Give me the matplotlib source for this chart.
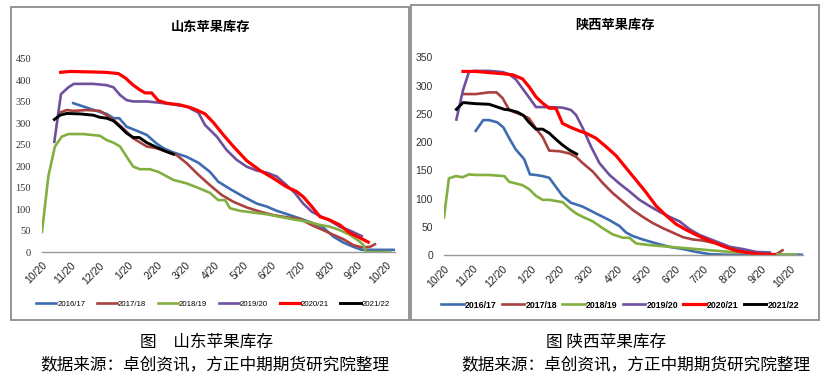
import matplotlib
matplotlib.use("Agg")
import matplotlib.pyplot as plt
from matplotlib.patches import Rectangle

# x = months since 10/20 (0 = Oct 20), y = stock (10k tons)
months = ["10/20", "11/20", "12/20", "1/20", "2/20", "3/20", "4/20",
          "5/20", "6/20", "7/20", "8/20", "9/20", "10/20"]
seasons = ["2016/17", "2017/18", "2018/19", "2019/20", "2020/21", "2021/22"]
colors = ["#3D6CB0", "#A9423F", "#83AE40", "#6F509C", "#FF0000", "#000000"]
widths = [1.9, 1.9, 1.9, 1.9, 2.3, 2.1]

# ---- Shandong ----
sd_x_1617 = [1.09, 1.9, 2.25, 2.49, 2.69, 2.95, 3.18, 3.65, 3.99, 4.23, 4.58, 5.04, 5.45, 5.85,
             6.14, 6.55, 7.02, 7.48, 7.83, 8.18, 8.64, 8.99, 9.45, 9.8, 10.15, 10.5, 10.85, 11.14, 12.3]
sd_y_1617 = [347, 329, 322, 312, 312, 292, 286, 273, 253, 242, 232, 222, 208, 187,
             164, 147, 129, 113, 106, 96, 86, 78, 67, 57, 36, 22, 12, 5, 5]
sd_x_1718 = [0.63, 0.86, 1.09, 1.56, 2.02, 2.25, 2.49, 2.83, 3.18, 3.65, 3.99, 4.34, 4.69, 5.04,
             5.45, 5.85, 6.26, 6.67, 7.13, 7.6, 8.06, 8.52, 8.99, 9.45, 9.8, 10.15, 10.5, 10.85,
             11.14, 11.43, 11.6]
sd_y_1718 = [325, 331, 329, 331, 329, 319, 308, 288, 265, 246, 242, 234, 226, 207,
             180, 156, 133, 117, 104, 94, 86, 81, 77, 61, 51, 40, 30, 16,
             11, 12, 18]
sd_x_1819 = [0, 0.22, 0.45, 0.69, 0.92, 1.44, 2.02, 2.25, 2.49, 2.72, 2.95, 3.18, 3.41, 3.76,
             4.05, 4.58, 5.04, 5.5, 5.85, 6.14, 6.38, 6.55, 6.9, 7.36, 7.83, 8.29, 8.76, 9.22,
             9.69, 10.03, 10.38, 10.73, 11.08, 11.2, 11.29, 12.13]
sd_y_1819 = [47, 176, 246, 269, 275, 275, 271, 261, 255, 246, 222, 199, 193, 193,
             187, 168, 160, 148, 138, 121, 121, 102, 96, 92, 88, 82, 76, 71,
             63, 59, 51, 40, 24, 16, 0, 0]
sd_x_1920 = [0.43, 0.66, 0.92, 1.11, 1.79, 2.25, 2.49, 2.72, 2.95, 3.18, 3.65, 4.11, 4.58, 5.04,
             5.45, 5.68, 6.09, 6.43, 6.78, 7.13, 7.48, 7.83, 8.18, 8.52, 8.82, 9.1, 9.4, 9.74,
             9.98, 10.38, 10.73, 11.14]
sd_y_1920 = [257, 368, 384, 392, 392, 389, 384, 366, 354, 351, 351, 348, 344, 339,
             325, 296, 269, 238, 215, 199, 190, 185, 176, 156, 137, 113, 94, 82,
             75, 59, 50, 37]
sd_x_2021 = [0.65, 1.0, 1.6, 2.2, 2.66, 2.9, 3.18, 3.41, 3.59, 3.82, 4.05, 4.34, 4.81, 5.16,
             5.39, 5.68, 5.97, 6.32, 6.67, 7.13, 7.6, 8.06, 8.52, 8.87, 9.1, 9.4, 9.69, 9.98,
             10.38, 10.73, 11.08, 11.37]
sd_y_2021 = [419, 421, 420, 419, 416, 406, 389, 378, 371, 371, 353, 347, 343, 337,
             331, 322, 302, 273, 246, 213, 190, 172, 152, 141, 129, 106, 82, 76,
             63, 44, 33, 23]
sd_x_2122 = [0.43, 0.63, 0.86, 1.32, 1.79, 2.02, 2.25, 2.49, 2.72, 2.95, 3.18, 3.39, 3.65, 3.99,
             4.34, 4.58]
sd_y_2122 = [309, 319, 323, 322, 319, 314, 312, 306, 292, 277, 267, 267, 255, 244,
             234, 228]

# ---- Shaanxi ----
sx_x_1617 = [1.1, 1.36, 1.56, 1.85, 2.06, 2.26, 2.49, 2.78, 2.98, 3.19, 3.42, 3.65, 3.88, 4.11,
             4.4, 4.81, 5.27, 5.74, 6.08, 6.32, 6.55, 6.89, 7.36, 7.82, 8.29, 8.75, 9.21, 9.79, 12.45]
sx_y_1617 = [220, 239, 239, 235, 226, 207, 187, 170, 143, 142, 140, 137, 121, 105,
             93, 86, 74, 62, 52, 40, 34, 28, 21, 15, 11, 6, 2, 1, 1]
sx_x_1718 = [0.67, 1.1, 1.56, 1.82, 2.03, 2.26, 2.49, 2.72, 2.95, 3.19, 3.42, 3.65, 4.0, 4.35,
             4.58, 4.81, 5.16, 5.5, 5.85, 6.2, 6.55, 6.89, 7.24, 7.59, 7.94, 8.29, 8.63, 8.98,
             9.44, 9.91, 10.37, 10.83, 11.3, 11.53, 11.74]
sx_y_1718 = [285, 285, 288, 288, 278, 257, 252, 248, 242, 224, 209, 185, 184, 180,
             174, 163, 148, 128, 110, 95, 80, 68, 57, 48, 40, 32, 28, 26,
             21, 14, 9, 5, 2, 2, 9]
sx_x_1819 = [0, 0.17, 0.41, 0.64, 0.87, 1.1, 1.56, 2.09, 2.26, 2.49, 2.72, 2.95, 3.19, 3.42,
             3.65, 3.88, 4.11, 4.35, 4.58, 4.81, 5.16, 5.5, 5.85, 6.2, 6.43, 6.66, 7.13, 7.82,
             8.52, 9.21, 9.91, 10.6, 11.3, 12.2]
sx_y_1819 = [67, 136, 140, 138, 143, 142, 142, 140, 130, 127, 124, 117, 105, 98,
             98, 96, 94, 83, 74, 68, 60, 48, 37, 31, 31, 21, 18, 15,
             12, 9, 6, 4, 2, 1]
sx_x_1920 = [0.43, 0.66, 0.87, 1.1, 1.56, 2.03, 2.26, 2.49, 2.72, 2.95, 3.19, 3.65, 4.11, 4.4,
             4.58, 4.81, 5.1, 5.39, 5.74, 6.08, 6.43, 6.78, 7.13, 7.47, 7.82, 8.17, 8.52, 8.86,
             9.21, 9.56, 9.91, 10.37, 10.83, 11.3]
sx_y_1920 = [240, 292, 325, 326, 326, 324, 320, 311, 295, 279, 262, 262, 261, 257,
             248, 225, 192, 163, 142, 127, 113, 98, 87, 77, 68, 60, 46, 36,
             29, 22, 15, 11, 6, 5]
sx_x_2021 = [0.66, 1.1, 1.56, 2.03, 2.38, 2.72, 2.95, 3.19, 3.42, 3.65, 3.88, 4.11, 4.4, 4.69,
             4.92, 5.27, 5.62, 5.97, 6.32, 6.66, 7.01, 7.36, 7.71, 8.05, 8.4, 8.75, 9.1, 9.44,
             9.79, 10.14, 10.49, 10.95, 11.47]
sx_y_2021 = [325, 325, 323, 321, 319, 312, 298, 280, 269, 260, 260, 233, 226, 220,
             216, 207, 192, 176, 154, 133, 111, 87, 70, 55, 45, 36, 28, 21,
             14, 8, 5, 2, 1]
sx_x_2122 = [0.43, 0.66, 1.1, 1.56, 1.8, 2.09, 2.26, 2.55, 2.76, 2.95, 3.19, 3.42, 3.65, 3.88,
             4.11, 4.35, 4.6]
sx_y_2122 = [258, 270, 268, 267, 263, 258, 257, 253, 247, 235, 223, 223, 216, 205,
             195, 186, 179]

sd_x = [sd_x_1617, sd_x_1718, sd_x_1819, sd_x_1920, sd_x_2021, sd_x_2122]
sd_y = [sd_y_1617, sd_y_1718, sd_y_1819, sd_y_1920, sd_y_2021, sd_y_2122]
sx_x = [sx_x_1617, sx_x_1718, sx_x_1819, sx_x_1920, sx_x_2021, sx_x_2122]
sx_y = [sx_y_1617, sx_y_1718, sx_y_1819, sx_y_1920, sx_y_2021, sx_y_2122]

W, H = 833, 390
fig = plt.figure(figsize=(W / 100, H / 100), dpi=100)
cjk = ["Noto Sans CJK SC", "DejaVu Sans"]


def px_box(x0, y0, x1, y1):
    # pixel box (top-left origin) -> figure fraction rect
    return [x0 / W, 1 - y1 / H, (x1 - x0) / W, (y1 - y0) / H]


# panel borders
for x0, y0, x1, y1 in [(11, 7, 409, 320), (411, 5, 819, 320)]:
    fig.patches.append(Rectangle((x0 / W, 1 - y1 / H), (x1 - x0) / W, (y1 - y0) / H,
                                 transform=fig.transFigure, fill=False,
                                 edgecolor="#8C8C8C", linewidth=1.3))


def draw(ax, xs, ys, ymax, ystep, xmax, tickfont, legfont, legweight, title, tx, ty, legx, legy, legcol):
    for x, y, c, lw, lab in zip(xs, ys, colors, widths, seasons):
        ax.plot(x, y, color=c, linewidth=lw, label=lab, solid_joinstyle="round")
    ax.set_xlim(0, xmax)
    ax.set_ylim(0, ymax)
    ax.set_yticks(range(0, ymax + 1, ystep))
    ax.set_xticks(range(len(months)))
    ax.set_xticklabels(months, rotation=45, ha="right", va="top", rotation_mode="anchor",
                       fontsize=7.5, family="Liberation Sans", color="#222222")
    for t in ax.get_yticklabels():
        t.set_family(tickfont)
        t.set_fontsize(7.5)
        t.set_color("#333333")
    ax.tick_params(axis="both", length=0)
    ax.tick_params(axis="y", pad=8)
    ax.tick_params(axis="x", pad=6)
    for s in ["top", "right", "left"]:
        ax.spines[s].set_visible(False)
    ax.spines["bottom"].set_color("#999999")
    ax.spines["bottom"].set_linewidth(1.0)
    fig.text(tx / W, 1 - ty / H, title, ha="center", va="center", fontsize=9.5,
             fontweight="bold", family=cjk)
    ax.legend(loc="center", bbox_to_anchor=(legx / W, 1 - legy / H),
              bbox_transform=fig.transFigure, ncol=6, frameon=False,
              prop={"family": "Liberation Sans", "size": legfont, "weight": legweight},
              handlelength=2.6, handletextpad=0.1, columnspacing=legcol,
              borderaxespad=0)


ax1 = fig.add_axes(px_box(42, 59, 395, 252))
draw(ax1, sd_x, sd_y, 450, 50, 12.3, "Liberation Serif", 5.6, "normal",
     "山东苹果库存", 211, 27, 213, 304, 1.5)

ax2 = fig.add_axes(px_box(444, 57.3, 803, 255.3))
draw(ax2, sx_x, sx_y, 350, 50, 12.45, "Liberation Sans", 6.3, "bold",
     "陕西苹果库存", 615, 25, 620, 305, 0.6)

# captions
fig.text(207 / W, 1 - 342 / H, "图　山东苹果库存", ha="center", va="center",
         fontsize=12, family=cjk)
fig.text(215 / W, 1 - 365 / H, "数据来源：卓创资讯，方正中期期货研究院整理", ha="center",
         va="center", fontsize=12, family=cjk)
fig.text(606 / W, 1 - 342 / H, "图 陕西苹果库存", ha="center", va="center",
         fontsize=12, family=cjk)
fig.text(636 / W, 1 - 365 / H, "数据来源：卓创资讯，方正中期期货研究院整理", ha="center",
         va="center", fontsize=12, family=cjk)

fig.savefig("out.png", dpi=100)
